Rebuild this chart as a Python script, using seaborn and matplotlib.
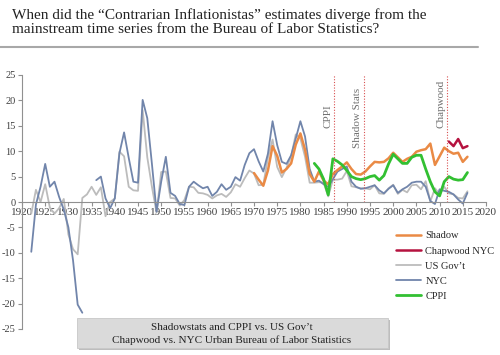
import numpy as np
import pandas as pd
import matplotlib
matplotlib.use('Agg')
import matplotlib.pyplot as plt
from matplotlib.lines import Line2D
from matplotlib.patches import Rectangle
import seaborn as sns

# %% data

gov_years = list(range(1922, 2017))
gov_vals = [-2.3, 2.4, 0.0, 3.5, -1.1, -2.3, -1.2, 0.6, -6.4, -9.3,
            -10.3, 0.8, 1.5, 3.0, 1.4, 2.9, -2.8, 0.0, 0.7, 9.9,
            9.0, 3.0, 2.3, 2.2, 18.1, 8.8, 3.0, -2.1, 5.9, 6.0,
            0.8, 0.7, -0.7, 0.4, 3.0, 2.9, 1.8, 1.7, 1.4, 0.7,
            1.3, 1.6, 1.0, 1.9, 3.5, 3.0, 4.7, 6.2, 5.6, 3.3,
            3.4, 8.7, 12.3, 6.9, 4.9, 6.7, 9.0, 13.3, 12.5, 8.9,
            3.8, 3.8, 3.9, 3.8, 1.1, 4.4, 4.4, 4.6, 6.1, 3.1,
            2.9, 2.7, 2.7, 2.5, 3.3, 1.7, 1.6, 2.7, 3.4, 1.6,
            2.4, 1.9, 3.3, 3.4, 2.5, 4.1, 0.1, 2.7, 1.5, 3.0,
            1.7, 1.5, 0.8, 0.7, 2.1]

nyc_years_a = list(range(1922, 1934))
nyc_vals_a = [-9.8, -0.5, 3.0, 7.5, 3.0, 4.0, 1.0, -1.5, -5.0, -11.5, -20.2, -21.8]

nyc_years_b = list(range(1936, 2017))
nyc_vals_b = [4.3, 5.0, 0.7, -1.2, 0.7, 9.6, 13.7, 8.7, 4.0, 3.8,
              20.1, 16.5, 7.5, -1.9, 4.0, 8.9, 1.8, 1.2, -0.4, -0.6,
              3.0, 4.0, 3.3, 2.7, 3.0, 1.2, 2.0, 3.5, 2.4, 3.0,
              4.9, 4.2, 7.3, 9.6, 10.4, 8.0, 6.0, 9.5, 15.9, 11.2,
              7.9, 7.5, 9.2, 12.5, 15.9, 12.9, 6.5, 4.0, 4.2, 3.5,
              3.0, 4.5, 6.0, 6.5, 7.0, 4.0, 3.0, 2.6, 2.7, 3.0,
              3.3, 2.3, 1.7, 2.6, 3.3, 1.8, 2.5, 3.0, 3.8, 4.0,
              4.0, 3.0, 0.2, -0.4, 2.5, 2.2, 2.0, 1.5, 0.5, -0.3,
              1.8]

shadow_years = list(range(1970, 2017))
shadow_vals = [5.7, 4.4, 3.2, 6.2, 11.0, 9.1, 5.8, 6.5, 7.6, 11.3,
               13.5, 10.3, 5.5, 4.0, 6.0, 4.2, 3.5, 5.5, 6.3, 7.0,
               7.8, 6.5, 5.5, 5.4, 6.0, 7.0, 7.9, 7.8, 7.9, 8.6,
               9.7, 8.8, 7.9, 8.5, 8.9, 9.9, 10.2, 10.4, 11.5, 7.3,
               9.0, 10.7, 10.0, 9.5, 9.7, 7.9, 8.9]

cppi_years = list(range(1983, 2017))
cppi_vals = [7.6, 6.5, 4.5, 1.4, 8.5, 8.0, 7.3, 6.2, 5.0, 4.6,
             4.4, 4.6, 5.0, 5.2, 4.3, 5.2, 7.5, 9.4, 8.5, 7.6,
             7.6, 8.8, 9.2, 9.2, 6.5, 4.0, 2.0, 1.2, 4.0, 5.0,
             4.5, 4.3, 4.4, 5.8]

chap_years = list(range(2012, 2017))
chap_vals = [11.9, 11.0, 12.4, 10.6, 11.0]

markers_x = [1987.2, 1993.6, 2011.7]
markers_lbl = ['CPPI', 'Shadow Stats', 'Chapwood']
markers_lbl_y = [14.6, 10.6, 14.6]

yticks = list(range(-25, 26, 5))
xticks = list(range(1920, 2021, 5))

title = ('When did the \u201cContrarian Inflationistas\u201d estimates diverge from the\n'
         'mainstream time series from the Bureau of Labor Statistics?')

# %% plot

sns.set_theme(style='white')
plt.rcParams['font.family'] = ['Liberation Serif', 'DejaVu Serif']

col_gov = '#bcbcbc'
col_nyc = '#7185ab'
col_shadow = '#ea8a45'
col_chap = '#b5123f'
col_cppi = '#32c032'

fig = plt.figure(figsize=(5, 3.55), dpi=100)
ax = fig.add_axes([22 / 500, 26 / 355, 464 / 500, 254 / 355])

sns.lineplot(x=gov_years, y=gov_vals, color=col_gov, lw=1.3, ax=ax)
sns.lineplot(x=nyc_years_a, y=nyc_vals_a, color=col_nyc, lw=1.3, ax=ax)
sns.lineplot(x=nyc_years_b, y=nyc_vals_b, color=col_nyc, lw=1.3, ax=ax)
sns.lineplot(x=shadow_years, y=shadow_vals, color=col_shadow, lw=1.8, ax=ax)
sns.lineplot(x=cppi_years, y=cppi_vals, color=col_cppi, lw=2.0, ax=ax)
sns.lineplot(x=chap_years, y=chap_vals, color=col_chap, lw=1.8, ax=ax)

#marker lines with rotated labels
for xv, lbl, ly in zip(markers_x, markers_lbl, markers_lbl_y):
    ax.axvline(xv, ymin=0.5, ymax=1.0, color='#d85050', lw=0.8, ls=(0, (1, 1.5)))
    ax.text(xv - 1.3, ly, lbl, rotation=90, ha='center', va='bottom',
            fontsize=8, color='#707070')

ax.set_xlim(1920, 2020)
ax.set_ylim(-25, 25)
ax.set_xticks(xticks)
ax.set_yticks(yticks)
ax.set_yticklabels([str(v) for v in yticks])
ax.spines['bottom'].set_position(('data', 0))
ax.spines['top'].set_visible(False)
ax.spines['right'].set_visible(False)
for s in ['left', 'bottom']:
    ax.spines[s].set_color('#909090')
    ax.spines[s].set_linewidth(0.8)
ax.tick_params(axis='both', direction='out', length=3, width=0.8, color='#909090',
               labelcolor='#404040', pad=1.5)
ax.tick_params(axis='x', bottom=True, labelsize=8)
ax.tick_params(axis='y', left=True, labelsize=7.5)
ax.set_xlabel('')
ax.set_ylabel('')

handles = [Line2D([], [], color=col_shadow, lw=1.8),
           Line2D([], [], color=col_chap, lw=1.8),
           Line2D([], [], color=col_gov, lw=1.3),
           Line2D([], [], color=col_nyc, lw=1.3),
           Line2D([], [], color=col_cppi, lw=2.0)]
labels = ['Shadow', 'Chapwood NYC', "US Gov\u2019t", 'NYC', 'CPPI']
ax.legend(handles, labels, loc='upper left', bbox_to_anchor=(391 / 500, 1 - 226 / 355),
          bbox_transform=fig.transFigure, frameon=False, fontsize=7.5,
          handlelength=2.4, handletextpad=0.4, labelspacing=0.55, borderpad=0)

# title and rule
fig.text(12 / 500, 1 - 8 / 355, title, ha='left', va='top', fontsize=11,
         color='#222222', linespacing=1.15)
fig.add_artist(Line2D([0, 478 / 500], [1 - 47 / 355] * 2, color='#a8a8a8', lw=1.5))

# caption box
fig.patches.append(Rectangle((79 / 500, 5 / 355), 311 / 500, 30 / 355,
                             transform=fig.transFigure, facecolor='#bdbdbd',
                             edgecolor='none', zorder=1))
fig.patches.append(Rectangle((77 / 500, 7 / 355), 311 / 500, 30 / 355,
                             transform=fig.transFigure, facecolor='#dadada',
                             edgecolor='#c8c8c8', lw=0.6, zorder=2))
fig.text(232 / 500, 1 - 327 / 355, 'Shadowstats and CPPI vs. US Gov\u2019t',
         ha='center', va='center', fontsize=8, color='#222222')
fig.text(232 / 500, 1 - 340 / 355, 'Chapwood vs. NYC Urban Bureau of Labor Statistics',
         ha='center', va='center', fontsize=8, color='#222222')

plt.savefig('out.png', dpi=100)
